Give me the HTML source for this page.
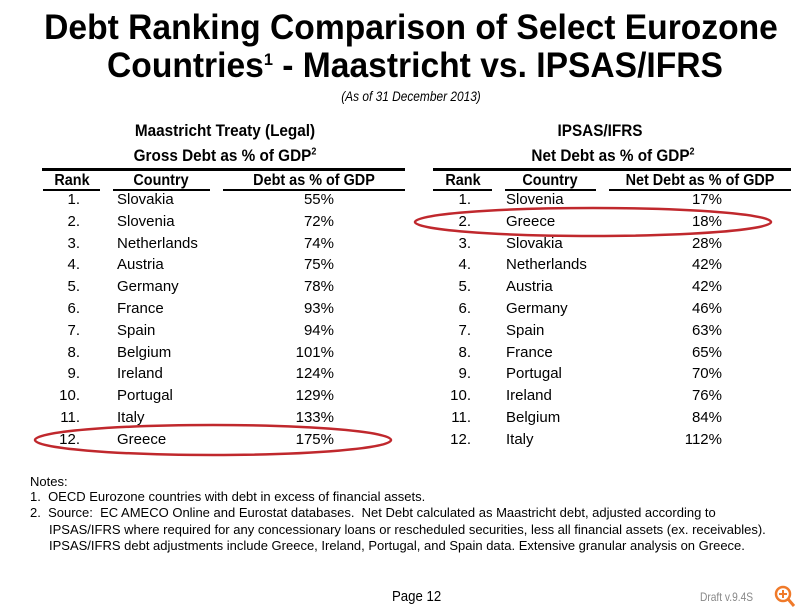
<!DOCTYPE html>
<html><head><meta charset="utf-8"><style>
*{margin:0;padding:0;box-sizing:border-box}
body{width:806px;height:611px;background:#fff;position:relative;overflow:hidden;font-family:"Liberation Sans",Arial,sans-serif;color:#000}
.a{position:absolute;white-space:nowrap;line-height:1}
.t{font-weight:bold;font-size:35px;left:8px;width:806px;text-align:center;transform:scaleX(.96)}
.h{font-weight:bold;font-size:17px;text-align:center;transform:scaleX(.9)}
.r{font-size:15px}
.n{font-size:13px;left:30px}
.line{position:absolute;background:#000}
</style></head><body>
<div class="a t" style="top:10px">Debt Ranking Comparison of Select Eurozone</div>
<div class="a t" style="top:48px;left:12px">Countries<span style="font-size:17px;vertical-align:12px">1</span> - Maastricht vs. IPSAS/IFRS</div>
<div class="a" style="top:89px;left:8px;width:806px;text-align:center;font-size:14px;font-style:italic;transform:scaleX(.85)">(As of 31 December 2013)</div>

<div class="a h" style="top:122px;left:75px;width:300px">Maastricht Treaty (Legal)</div>
<div class="a h" style="top:147px;left:75px;width:300px">Gross Debt as % of GDP<sup style="font-size:10px">2</sup></div>
<div class="a h" style="top:122px;left:450px;width:300px">IPSAS/IFRS</div>
<div class="a h" style="top:147px;left:463px;width:300px">Net Debt as % of GDP<sup style="font-size:10px">2</sup></div>

<div class="line" style="left:42px;top:168px;width:363px;height:3px"></div>
<div class="line" style="left:433px;top:168px;width:358px;height:3px"></div>
<div class="line" style="left:43px;top:189px;width:57px;height:2px"></div>
<div class="line" style="left:113px;top:189px;width:97px;height:2px"></div>
<div class="line" style="left:223px;top:189px;width:182px;height:2px"></div>
<div class="line" style="left:433px;top:189px;width:59px;height:2px"></div>
<div class="line" style="left:505px;top:189px;width:91px;height:2px"></div>
<div class="line" style="left:609px;top:189px;width:182px;height:2px"></div>

<div class="a h" style="top:173px;left:22px;width:100px;font-size:16px">Rank</div>
<div class="a h" style="top:173px;left:111px;width:100px;font-size:16px">Country</div>
<div class="a h" style="top:173px;left:214px;width:200px;font-size:16px">Debt as % of GDP</div>
<div class="a h" style="top:173px;left:413px;width:100px;font-size:16px">Rank</div>
<div class="a h" style="top:173px;left:500px;width:100px;font-size:16px">Country</div>
<div class="a h" style="top:173px;left:600px;width:200px;font-size:16px">Net Debt as % of GDP</div>

<div id="rows"></div>
<svg class="a" style="left:0;top:0" width="806" height="611">
<ellipse cx="213" cy="440" rx="178" ry="15" fill="none" stroke="#c0282d" stroke-width="2.5"/>
<ellipse cx="593" cy="222" rx="178" ry="14" fill="none" stroke="#c0282d" stroke-width="2.5"/>
<circle cx="783" cy="594" r="7" fill="none" stroke="#f07a2a" stroke-width="2.5"/>
<line x1="788" y1="599" x2="794" y2="606" stroke="#f07a2a" stroke-width="3"/>
<path d="M779 594h8M783 590v8" stroke="#f07a2a" stroke-width="2"/>
</svg>

<div class="a n" style="top:475px">Notes:</div>
<div class="a n" style="top:490px">1.&nbsp; OECD Eurozone countries with debt in excess of financial assets.</div>
<div class="a n" style="top:506px">2.&nbsp; Source:&nbsp; EC AMECO Online and Eurostat databases.&nbsp; Net Debt calculated as Maastricht debt, adjusted according to</div>
<div class="a n" style="top:523px;left:49px">IPSAS/IFRS where required for any concessionary loans or rescheduled securities, less all financial assets (ex. receivables).</div>
<div class="a n" style="top:539px;left:49px">IPSAS/IFRS debt adjustments include Greece, Ireland, Portugal, and Spain data. Extensive granular analysis on Greece.</div>

<div class="a" style="top:589px;left:392px;font-size:15px;transform:scaleX(.88);transform-origin:left">Page 12</div>
<div class="a" style="top:591px;left:700px;font-size:12px;color:#888;transform:scaleX(.85);transform-origin:left">Draft v.9.4S</div>

<script>
var L=[["Slovakia","55%"],["Slovenia","72%"],["Netherlands","74%"],["Austria","75%"],["Germany","78%"],["France","93%"],["Spain","94%"],["Belgium","101%"],["Ireland","124%"],["Portugal","129%"],["Italy","133%"],["Greece","175%"]];
var R=[["Slovenia","17%"],["Greece","18%"],["Slovakia","28%"],["Netherlands","42%"],["Austria","42%"],["Germany","46%"],["Spain","63%"],["France","65%"],["Portugal","70%"],["Ireland","76%"],["Belgium","84%"],["Italy","112%"]];
var h="";
for(var i=0;i<12;i++){var y=192+i*21.8;
h+='<div class="a r" style="top:'+y+'px;left:30px;width:50px;text-align:right">'+(i+1)+'.</div>';
h+='<div class="a r" style="top:'+y+'px;left:117px">'+L[i][0]+'</div>';
h+='<div class="a r" style="top:'+y+'px;left:200px;width:134px;text-align:right">'+L[i][1]+'</div>';
h+='<div class="a r" style="top:'+y+'px;left:421px;width:50px;text-align:right">'+(i+1)+'.</div>';
h+='<div class="a r" style="top:'+y+'px;left:506px">'+R[i][0]+'</div>';
h+='<div class="a r" style="top:'+y+'px;left:590px;width:132px;text-align:right">'+R[i][1]+'</div>';}
document.getElementById("rows").innerHTML=h;
</script>
</body></html>
